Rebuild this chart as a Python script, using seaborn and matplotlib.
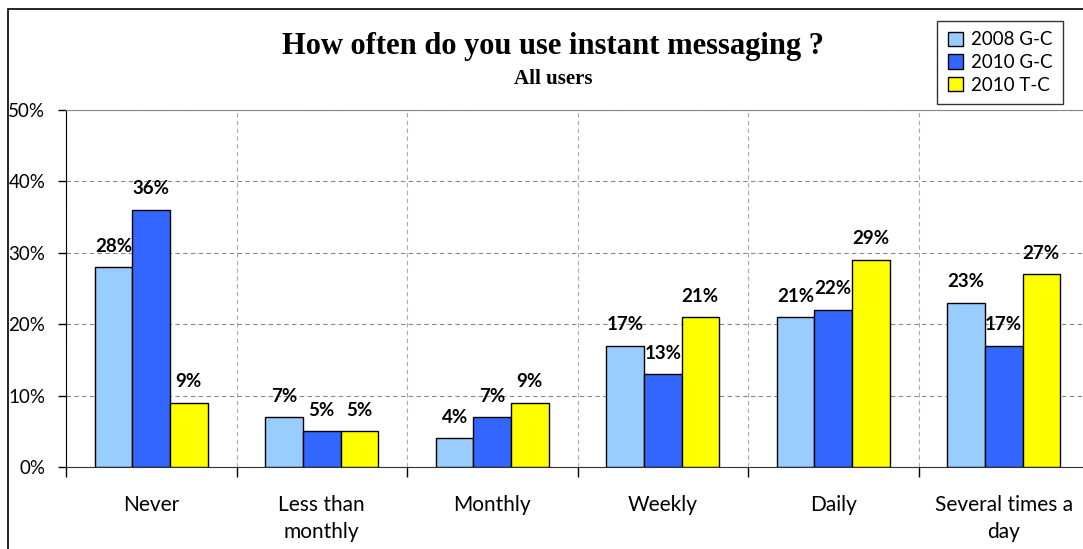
import pandas as pd
import numpy as np
import matplotlib.pyplot as plt
import seaborn as sns
from matplotlib.patches import Rectangle
from matplotlib.ticker import MultipleLocator, FixedLocator

# Werte aus dem Diagramm
categories = ['Never', 'Less than\nmonthly', 'Monthly', 'Weekly', 'Daily', 'Several times a\nday']
series = ['2008 G-C', '2010 G-C', '2010 T-C']
vals_2008_gc = [28, 7, 4, 17, 21, 23]
vals_2010_gc = [36, 5, 7, 13, 22, 17]
vals_2010_tc = [9, 5, 9, 21, 29, 27]
colors = ['#99CCFF', '#3366FF', '#FFFF00']

df = pd.DataFrame({
    'Kategorie': categories * 3,
    'Serie': np.repeat(series, len(categories)),
    'Wert': vals_2008_gc + vals_2010_gc + vals_2010_tc,
})

sns.set_style('white')
plt.rcParams['font.family'] = ['Lato', 'DejaVu Sans']
plt.rcParams['text.color'] = 'black'
plt.rcParams['xtick.color'] = 'black'
plt.rcParams['ytick.color'] = 'black'

fig = plt.figure(figsize=(10.83, 5.49), dpi=100)
ax = fig.add_axes([66 / 1083, 1 - 467 / 549, 1023 / 1083, 357 / 549])

sns.barplot(data=df, x='Kategorie', y='Wert', hue='Serie', palette=colors,
            width=0.66, edgecolor='black', linewidth=1.0, saturation=1,
            ax=ax, legend=True)

# Beschriftungen über den Balken
for cont in ax.containers:
    ax.bar_label(cont, labels=[f'{int(v)}%' for v in cont.datavalues],
                 padding=9, fontsize=13.5, fontweight='bold', color='black')

ax.set_xlim(-0.5, 5.5)
ax.set_ylim(0, 50)
ax.yaxis.set_major_locator(MultipleLocator(10))
ax.set_yticklabels([f'{int(t)}%' for t in ax.get_yticks()], fontsize=13.5)
ax.tick_params(axis='y', length=6, width=1, direction='out', pad=9, left=True)
ax.xaxis.set_minor_locator(FixedLocator(np.arange(-0.5, 6, 1)))
ax.tick_params(axis='x', which='major', length=0, pad=20, labelsize=15)
ax.tick_params(axis='x', which='minor', length=7, width=1, direction='out', bottom=True)
for lbl in ax.get_xticklabels():
    lbl.set_linespacing(1.45)
ax.set_xlabel('')
ax.set_ylabel('')

ax.grid(axis='y', which='major', linestyle=(0, (4, 3)), color='#888888', linewidth=0.8)
ax.grid(axis='x', which='minor', linestyle=(0, (4, 3)), color='#aaaaaa', linewidth=0.8)
ax.set_axisbelow(True)
ax.spines['right'].set_visible(False)
ax.spines['top'].set_color('#888888')
ax.spines['left'].set_color('black')
ax.spines['bottom'].set_color('#333333')

leg = ax.legend(loc='upper right', bbox_to_anchor=(1063 / 1083, 1 - 21 / 549),
                bbox_transform=fig.transFigure, prop={'family': ['Lato'], 'size': 13.5},
                frameon=True, fancybox=False, edgecolor='black', handlelength=0.8,
                handleheight=0.8, handletextpad=0.45, borderpad=0.55,
                borderaxespad=0, labelspacing=0.3, title=None)
leg.get_frame().set_linewidth(1)
for t in leg.get_texts():
    t.set_color('black')

fig.text(553 / 1083, 1 - 47 / 549, 'How often do you use instant messaging ?',
         ha='center', va='center', fontsize=22, fontweight='bold',
         family=['Liberation Serif'], color='black')
fig.text(553 / 1083, 1 - 79 / 549, 'All users', ha='center', va='center',
         fontsize=15, fontweight='bold', family=['Liberation Serif'], color='black')

# Rahmen um das Diagramm
fig.patches.append(Rectangle((8 / 1083, -0.1), 1.2, 1.1 - 9 / 549,
                             transform=fig.transFigure, fill=False,
                             edgecolor='black', linewidth=1.2))

fig.savefig('out.png', dpi=100)
